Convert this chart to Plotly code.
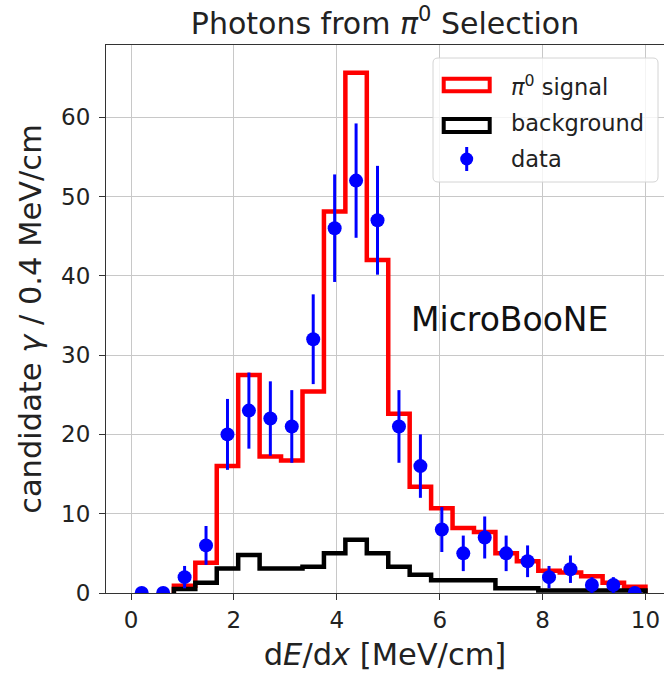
import numpy as np
import plotly.graph_objects as go

# ---------------- data ----------------
bin_edges = np.linspace(0.0, 10.0, 25)            # 24 bins
bin_centers = 0.5 * (bin_edges[:-1] + bin_edges[1:])

signal = [0, 0, 0.9, 3.8, 16.0, 27.5, 17.2, 16.7, 25.4, 48.1, 65.6, 42.0,
          22.6, 13.4, 10.7, 8.2, 7.7, 5.0, 4.0, 2.8, 2.6, 2.1, 1.3, 0.8]
background = [0, 0, 0.5, 1.3, 3.1, 4.8, 3.1, 3.1, 3.3, 5.0, 6.7, 5.0,
              3.3, 2.3, 1.6, 1.6, 1.6, 0.6, 0.6, 0.3, 0.3, 0.3, 0.3, 0.3]
data_counts = [0, 0, 2, 6, 20, 23, 22, 21, 32, 46, 52, 47,
               21, 16, 8, 5, 7, 5, 4, 2, 3, 1, 1, 0]
data_err = [0, 0, 1.41, 2.45, 4.47, 4.80, 4.69, 4.58, 5.66, 6.78, 7.21, 6.86,
            4.58, 4.00, 2.83, 2.24, 2.65, 2.24, 2.00, 1.41, 1.73, 1.00, 1.00, 0]

x_ticks = [0, 2, 4, 6, 8, 10]
y_ticks = [0, 10, 20, 30, 40, 50, 60]

FONT = "DejaVu Sans"


def step_outline(edges, vals, start=2):
    xs = [edges[start]] + list(edges[start:])
    ys = [0] + list(vals[start:]) + [0]
    return xs, ys


fig = go.Figure()

sx, sy = step_outline(bin_edges, signal)
fig.add_trace(go.Scatter(x=sx, y=sy, mode="lines", line=dict(color="#ff0000", width=4.5, shape="hv"),
                         showlegend=False, cliponaxis=True))
bx, by = step_outline(bin_edges, background)
fig.add_trace(go.Scatter(x=bx, y=by, mode="lines", line=dict(color="#000000", width=4.5, shape="hv"),
                         showlegend=False, cliponaxis=True))
fig.add_trace(go.Scatter(x=bin_centers, y=data_counts, mode="markers",
                         marker=dict(color="#0000ff", size=14),
                         error_y=dict(type="data", array=data_err, visible=True,
                                      color="#0000ff", thickness=3, width=0),
                         showlegend=False, cliponaxis=True))

# ---------------- layout ----------------
L, R, T, B = 106, 0, 45, 82
W, H = 664, 675
pw, ph = W - L - R, H - T - B


def px(x):
    return (x - L) / pw


def py(y):
    return (H - B - y) / ph


shapes = []
# legend box (rounded)
x0, x1, y0, y1, r = 433, 658, 58, 182, 5
path = (f"M {px(x0 + r)},{py(y0)} L {px(x1 - r)},{py(y0)} Q {px(x1)},{py(y0)} {px(x1)},{py(y0 + r)} "
        f"L {px(x1)},{py(y1 - r)} Q {px(x1)},{py(y1)} {px(x1 - r)},{py(y1)} "
        f"L {px(x0 + r)},{py(y1)} Q {px(x0)},{py(y1)} {px(x0)},{py(y1 - r)} "
        f"L {px(x0)},{py(y0 + r)} Q {px(x0)},{py(y0)} {px(x0 + r)},{py(y0)} Z")
shapes.append(dict(type="path", path=path, xref="paper", yref="paper",
                   fillcolor="rgba(255,255,255,0.8)", line=dict(color="#d4d4d4", width=1), layer="above"))
# legend icons
shapes.append(dict(type="rect", xref="paper", yref="paper", x0=px(443.7), x1=px(489.7), y0=py(78.7), y1=py(91.3),
                   line=dict(color="#ff0000", width=4), fillcolor="rgba(0,0,0,0)", layer="above"))
shapes.append(dict(type="rect", xref="paper", yref="paper", x0=px(443.7), x1=px(489.7), y0=py(119), y1=py(132),
                   line=dict(color="#000000", width=4), fillcolor="rgba(0,0,0,0)", layer="above"))
shapes.append(dict(type="line", xref="paper", yref="paper", x0=px(466.7), x1=px(466.7), y0=py(147), y1=py(171),
                   line=dict(color="#0000ff", width=3), layer="above"))
rad = 6.5
shapes.append(dict(type="circle", xref="paper", yref="paper", x0=px(466.7 - rad), x1=px(466.7 + rad),
                   y0=py(159 - rad), y1=py(159 + rad), line=dict(color="#0000ff", width=0),
                   fillcolor="#0000ff", layer="above"))

annotations = [
    dict(text="<i>π</i><sup>0</sup> signal", x=px(509), y=py(85), xref="paper", yref="paper",
         xanchor="left", yanchor="middle", showarrow=False, font=dict(family=FONT, size=22.5, color="#222")),
    dict(text="background", x=px(509), y=py(123), xref="paper", yref="paper",
         xanchor="left", yanchor="middle", showarrow=False, font=dict(family=FONT, size=22.5, color="#222")),
    dict(text="data", x=px(509), y=py(159), xref="paper", yref="paper",
         xanchor="left", yanchor="middle", showarrow=False, font=dict(family=FONT, size=22.5, color="#222")),
    dict(text="MicroBooNE", x=px(409), y=py(319), xref="paper", yref="paper",
         xanchor="left", yanchor="middle", showarrow=False, font=dict(family=FONT, size=33, color="#111")),
]

fig.update_layout(
    width=W, height=H,
    margin=dict(l=L, r=R, t=T, b=B, autoexpand=False),
    paper_bgcolor="white", plot_bgcolor="white",
    font=dict(family=FONT, color="#222"),
    title=dict(text="Photons from <i>π</i><sup>0</sup> Selection", x=0.5, xref="paper", xanchor="center",
               y=1 - 23 / H, yref="container", yanchor="middle", font=dict(family=FONT, size=30, color="#222")),
    shapes=shapes,
    annotations=annotations,
)

fig.update_xaxes(range=[-0.486, 10.36], tickvals=x_ticks, ticktext=[str(v) for v in x_ticks],
                 automargin=False,
                 showgrid=True, gridcolor="#c8c8c8", gridwidth=1, zeroline=False,
                 showline=True, linecolor="#333", linewidth=1.2, mirror=True,
                 ticks="outside", ticklen=6, tickcolor="#333",
                 tickfont=dict(family=FONT, size=23, color="#222"),
                 title=dict(text="d<i>E</i>/d<i>x</i> [MeV/cm]", font=dict(family=FONT, size=30.5, color="#222"),
                            standoff=11))
fig.update_yaxes(range=[0, 69.1], tickvals=y_ticks, ticktext=[str(v) for v in y_ticks],
                 automargin=False,
                 showgrid=True, gridcolor="#c8c8c8", gridwidth=1, zeroline=False,
                 showline=True, linecolor="#333", linewidth=1.2, mirror=False,
                 ticks="outside", ticklen=6, tickcolor="#333", ticklabelstandoff=4,
                 tickfont=dict(family=FONT, size=23, color="#222"),
                 title=dict(text="candidate <i>γ</i> / 0.4 MeV/cm", font=dict(family=FONT, size=30.5, color="#222"),
                            standoff=10))

fig.write_html("out.html", config={"displayModeBar": False},
               post_script="document.body.style.margin='0px';document.body.style.padding='0px';")
